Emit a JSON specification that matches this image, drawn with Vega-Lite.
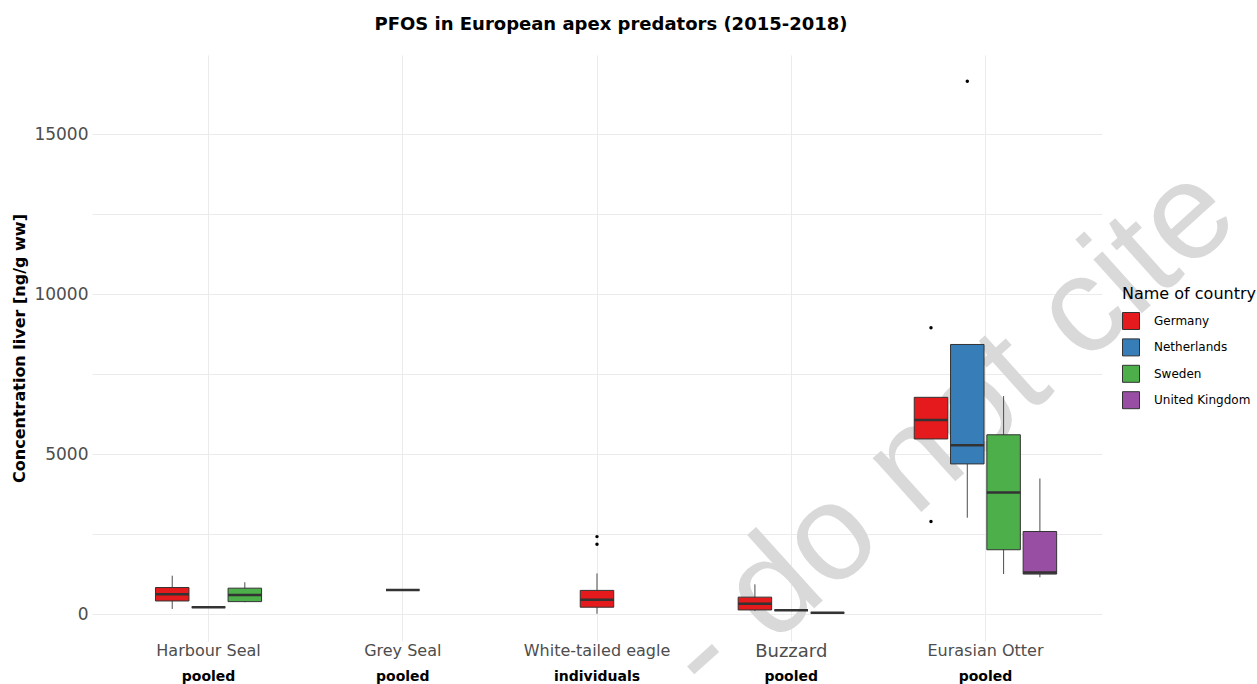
{
  "$schema": "https://vega.github.io/schema/vega-lite/v6.json",
  "width": 1010,
  "height": 586,
  "autosize": {"type": "none"},
  "padding": {"left": 92, "top": 55, "right": 155, "bottom": 43},
  "background": "white",
  "config": {"view": {"stroke": null}, "font": "DejaVu Sans"},
  "title": {"text": "PFOS in European apex predators (2015-2018)", "fontSize": 18, "fontWeight": "bold", "color": "black", "anchor": "middle", "dx": 14, "offset": 21, "font": "DejaVu Sans"},
  "data": {"values": [
    {"species": "Harbour Seal", "sampling": "pooled", "country": "Germany", "lower": 170, "q1": 420, "median": 630, "q3": 840, "upper": 1210, "outliers": []},
    {"species": "Harbour Seal", "sampling": "pooled", "country": "Netherlands", "lower": 225, "q1": 225, "median": 225, "q3": 225, "upper": 225, "outliers": []},
    {"species": "Harbour Seal", "sampling": "pooled", "country": "Sweden", "lower": 380, "q1": 400, "median": 610, "q3": 820, "upper": 1005, "outliers": []},
    {"species": "Grey Seal", "sampling": "pooled", "country": "Germany", "lower": 766, "q1": 766, "median": 766, "q3": 766, "upper": 766, "outliers": []},
    {"species": "White-tailed eagle", "sampling": "individuals", "country": "Germany", "lower": 20, "q1": 225, "median": 460, "q3": 750, "upper": 1280, "outliers": [2190, 2430]},
    {"species": "Buzzard", "sampling": "pooled", "country": "Germany", "lower": 105, "q1": 140, "median": 330, "q3": 540, "upper": 940, "outliers": []},
    {"species": "Buzzard", "sampling": "pooled", "country": "Netherlands", "lower": 130, "q1": 130, "median": 130, "q3": 130, "upper": 130, "outliers": []},
    {"species": "Buzzard", "sampling": "pooled", "country": "Sweden", "lower": 50, "q1": 50, "median": 50, "q3": 50, "upper": 50, "outliers": []},
    {"species": "Eurasian Otter", "sampling": "pooled", "country": "Germany", "lower": 5480, "q1": 5480, "median": 6070, "q3": 6780, "upper": 6780, "outliers": [8950, 2900]},
    {"species": "Eurasian Otter", "sampling": "pooled", "country": "Netherlands", "lower": 3020, "q1": 4700, "median": 5280, "q3": 8430, "upper": 8430, "outliers": [16650]},
    {"species": "Eurasian Otter", "sampling": "pooled", "country": "Sweden", "lower": 1260, "q1": 2020, "median": 3810, "q3": 5610, "upper": 6820, "outliers": []},
    {"species": "Eurasian Otter", "sampling": "pooled", "country": "United Kingdom", "lower": 1160, "q1": 1260, "median": 1310, "q3": 2590, "upper": 4245, "outliers": []}
  ]},
  "transform": [
    {"window": [{"op": "row_number", "as": "rank"}, {"op": "count", "as": "n"}], "groupby": ["species"], "sort": [{"field": "country"}], "frame": [null, null]},
    {"calculate": "datum.rank - (datum.n + 1) / 2", "as": "off"}
  ],
  "layer": [
    {
      "data": {"values": [{"label": "- do not cite"}]},
      "mark": {"type": "text", "font": "Liberation Sans", "fontSize": 137, "color": "#D9D9D9", "angle": 318, "align": "right", "baseline": "alphabetic", "dx": 346},
      "encoding": {
        "text": {"field": "label", "type": "nominal"},
        "x": {"datum": "Eurasian Otter", "type": "nominal", "axis": null},
        "y": {"datum": 5006, "type": "quantitative", "title": "Concentration liver [ng/g ww]"}
      }
    },
    {
      "mark": {"type": "rule", "color": "#4D4D4D", "strokeWidth": 1},
      "encoding": {
        "x": {"field": "species", "type": "nominal",
          "scale": {"type": "band", "domain": ["Harbour Seal", "Grey Seal", "White-tailed eagle", "Buzzard", "Eurasian Otter"], "paddingInner": 0, "paddingOuter": 0.1},
          "axis": {"orient": "bottom", "title": null, "labelAngle": 0, "labelFontSize": {"condition": {"test": "datum.value === 'Buzzard'", "value": 18}, "value": 16}, "labelColor": "#4D4D4D", "labelPadding": 1, "ticks": false, "domain": false, "grid": true, "gridColor": "#EBEBEB", "gridWidth": 1, "bandPosition": 0.5}},
        "xOffset": {"field": "off", "type": "quantitative", "scale": {"domain": [-2, 2], "range": [24.5, 169.7]}},
        "y": {"field": "lower", "type": "quantitative", "title": "Concentration liver [ng/g ww]",
          "scale": {"domain": [-830, 17470], "nice": false, "zero": false},
          "axis": {"values": [0, 2500, 5000, 7500, 10000, 12500, 15000], "format": "d", "labelExpr": "datum.value % 5000 === 0 ? datum.label : ''", "grid": true, "gridColor": "#EBEBEB", "gridWidth": 1, "ticks": false, "domain": false, "labelFontSize": 17, "labelColor": "#4D4D4D", "labelPadding": 4, "titleFontSize": 16, "titleFontWeight": "bold", "titleColor": "black", "titlePadding": 6}},
        "y2": {"field": "upper"}
      }
    },
    {
      "mark": {"type": "bar", "size": 33.5, "stroke": "#333333", "strokeWidth": 1},
      "encoding": {
        "x": {"field": "species", "type": "nominal",
          "axis": {"orient": "bottom", "title": null, "labelAngle": 0, "labelExpr": "datum.value === 'White-tailed eagle' ? 'individuals' : 'pooled'", "labelFontSize": 14, "labelFontWeight": "bold", "labelColor": "black", "labelPadding": 28, "ticks": false, "domain": false, "grid": false, "bandPosition": 0.5}},
        "xOffset": {"field": "off", "type": "quantitative"},
        "y": {"field": "q1", "type": "quantitative", "title": "Concentration liver [ng/g ww]"},
        "y2": {"field": "q3"},
        "color": {"field": "country", "type": "nominal",
          "scale": {"domain": ["Germany", "Netherlands", "Sweden", "United Kingdom"], "range": ["#E41A1C", "#377EB8", "#4DAF4A", "#984EA3"]},
          "legend": {"orient": "none", "legendX": 1030, "legendY": 231, "title": "Name of country", "titleFontSize": 16, "titleFontWeight": "normal", "titleColor": "black", "labelFontSize": 12, "labelColor": "black", "symbolType": "square", "symbolSize": 289, "symbolStrokeColor": "#333333", "symbolStrokeWidth": 1, "symbolOpacity": 1, "rowPadding": 4.4, "titlePadding": 10, "labelOffset": 14}}
      }
    },
    {
      "mark": {"type": "bar", "size": 33.5, "stroke": "#333333", "strokeWidth": 2.5, "fillOpacity": 0},
      "encoding": {
        "x": {"field": "species", "type": "nominal", "axis": null},
        "xOffset": {"field": "off", "type": "quantitative"},
        "y": {"field": "median", "type": "quantitative", "title": "Concentration liver [ng/g ww]"},
        "y2": {"field": "median"}
      }
    },
    {
      "transform": [{"flatten": ["outliers"]}],
      "mark": {"type": "circle", "color": "black", "size": 12, "opacity": 1},
      "encoding": {
        "x": {"field": "species", "type": "nominal", "axis": null},
        "xOffset": {"field": "off", "type": "quantitative"},
        "y": {"field": "outliers", "type": "quantitative", "title": "Concentration liver [ng/g ww]"}
      }
    }
  ],
  "resolve": {"axis": {"x": "independent"}}
}
